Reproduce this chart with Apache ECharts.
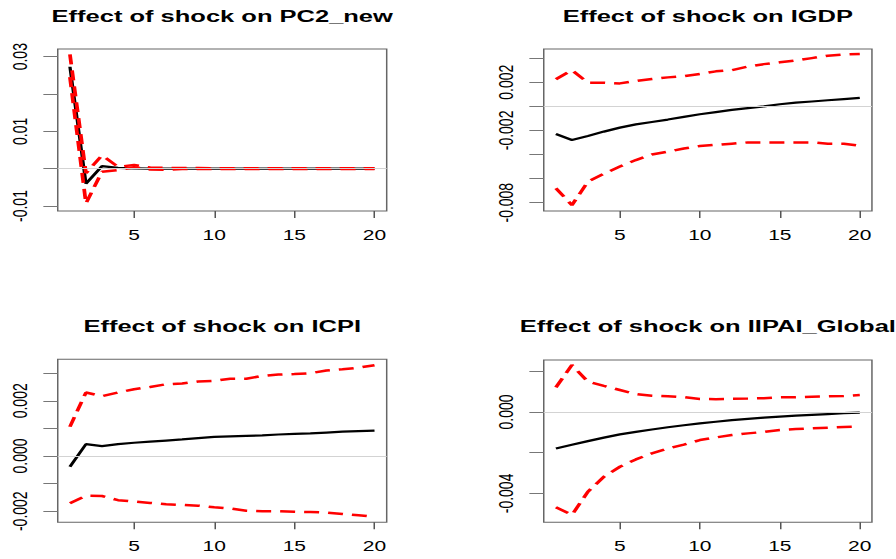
<!DOCTYPE html>
<html>
<head>
<meta charset="utf-8">
<script src="https://cdn.jsdelivr.net/npm/echarts@6/dist/echarts.min.js"></script>
<style>
html, body { margin: 0; padding: 0; background: #fff; overflow: hidden; }
/* the reference picture is stretched sideways, so the chart is laid out narrow and widened */
#main { width: 597px; height: 559px; transform: scaleX(1.5); transform-origin: 0 0; }
</style>
</head>
<body>
<div id="main"></div>
<script>
// horizons 1..20
var steps = [1, 2, 3, 4, 5, 6, 7, 8, 9, 10, 11, 12, 13, 14, 15, 16, 17, 18, 19, 20];
var xTicks = [5, 10, 15, 20];

// PC2_new
var pc2Mid = [0.0273, -0.0040, 0.0007, 0.0002, 0.0001, 0.0000, 0.0000, 0.0000, 0.0000, 0.0000,
	0.0000, 0.0000, 0.0000, 0.0000, 0.0000, 0.0000, 0.0000, 0.0000, 0.0000, 0.0000];
var pc2Upper = [0.0306, -0.0012, 0.0036, 0.0005, 0.0010, 0.0003, 0.0002, 0.0002, 0.0002, 0.0001,
	0.0001, 0.0001, 0.0001, 0.0001, 0.0001, 0.0001, 0.0001, 0.0001, 0.0001, 0.0001];
var pc2Lower = [0.0245, -0.0093, -0.0008, -0.0004, 0.0004, -0.0002, -0.0003, -0.0001, -0.0001, -0.0001,
	-0.0001, -0.0001, -0.0001, -0.0001, -0.0001, -0.0001, -0.0001, -0.0001, -0.0001, -0.0001];
var pc2Ticks = [0.03, 0.02, 0.01, 0, -0.01];
var pc2Labels = [0.03, 0.01, -0.01];

// IGDP
var gdpMid = [-0.0023, -0.0028, -0.00246, -0.0021, -0.00177, -0.0015, -0.0013, -0.0011, -0.00088, -0.00066,
	-0.00048, -0.0003, -0.00015, 0.0000, 0.00017, 0.0003, 0.0004, 0.0005, 0.0006, 0.0007];
var gdpUpper = [0.00224, 0.0030, 0.00196, 0.00196, 0.0019, 0.0021, 0.00227, 0.0024, 0.0025, 0.00268,
	0.0029, 0.0030, 0.0033, 0.0035, 0.00365, 0.0038, 0.0040, 0.0042, 0.0043, 0.00434];
var gdpLower = [-0.0068, -0.0082, -0.00626, -0.0056, -0.0050, -0.00446, -0.0040, -0.00377, -0.0035, -0.0033,
	-0.0032, -0.0031, -0.0030, -0.0030, -0.0030, -0.0030, -0.0030, -0.0031, -0.0031, -0.00327];
var gdpTicks = [0.004, 0.002, 0, -0.002, -0.004, -0.006, -0.008];
var gdpLabels = [0.002, -0.002, -0.008];

// ICPI
var cpiMid = [-0.00039, 0.00043, 0.00036, 0.00043, 0.00048, 0.00052, 0.00056, 0.0006, 0.00065, 0.00069,
	0.00071, 0.00073, 0.00075, 0.00078, 0.0008, 0.00082, 0.00085, 0.00088, 0.0009, 0.00092];
var cpiUpper = [0.00106, 0.0023, 0.00217, 0.0023, 0.00242, 0.0025, 0.0026, 0.00263, 0.0027, 0.00272,
	0.0028, 0.0028, 0.0029, 0.00295, 0.00297, 0.0030, 0.0031, 0.00314, 0.0032, 0.00329];
var cpiLower = [-0.00171, -0.00144, -0.00145, -0.0016, -0.00165, -0.0017, -0.00175, -0.00177, -0.0018, -0.00186,
	-0.0019, -0.00198, -0.0020, -0.0020, -0.00202, -0.00203, -0.00205, -0.0021, -0.00215, -0.0022];
var cpiTicks = [0.003, 0.002, 0.001, 0, -0.001, -0.002];
var cpiLabels = [0.002, 0, -0.002];

// IIPAI_Global
var ipaMid = [-0.00179, -0.00161, -0.00143, -0.00126, -0.0011, -0.00098, -0.00086, -0.00075, -0.00065, -0.00056,
	-0.00048, -0.0004, -0.00034, -0.00028, -0.00023, -0.00018, -0.00014, -0.0001, -0.00006, -0.00003];
var ipaUpper = [0.00121, 0.00231, 0.00149, 0.00128, 0.00108, 0.00088, 0.0008, 0.00077, 0.00073, 0.00064,
	0.00063, 0.00065, 0.00066, 0.00068, 0.00072, 0.00073, 0.00075, 0.00077, 0.00079, 0.00083];
var ipaLower = [-0.00468, -0.00506, -0.00392, -0.00318, -0.00269, -0.00233, -0.00203, -0.00179, -0.0016, -0.00138,
	-0.00125, -0.00113, -0.00105, -0.00098, -0.00088, -0.00084, -0.0008, -0.00077, -0.00074, -0.00072];
var ipaTicks = [0.002, 0, -0.002, -0.004];
var ipaLabels = [0, -0.004];

var titles = ['Effect of shock on PC2_new', 'Effect of shock on IGDP',
	'Effect of shock on ICPI', 'Effect of shock on IIPAI_Global'];

var panels = [
	{ mid: pc2Mid, up: pc2Upper, lo: pc2Lower, ticks: pc2Ticks, labels: pc2Labels, dec: 2,
		ymin: -0.01133, ymax: 0.03206, left: 38.5, top: 49, width: 219.3, height: 162, titleTop: 7.5 },
	{ mid: gdpMid, up: gdpUpper, lo: gdpLower, ticks: gdpTicks, labels: gdpLabels, dec: 3,
		ymin: -0.008689, ymax: 0.004755, left: 362.5, top: 49, width: 218.8, height: 162, titleTop: 7.5 },
	{ mid: cpiMid, up: cpiUpper, lo: cpiLower, ticks: cpiTicks, labels: cpiLabels, dec: 3,
		ymin: -0.002402, ymax: 0.003504, left: 38.5, top: 359.3, width: 219.3, height: 163, titleTop: 318 },
	{ mid: ipaMid, up: ipaUpper, lo: ipaLower, ticks: ipaTicks, labels: ipaLabels, dec: 3,
		ymin: -0.00542, ymax: 0.002555, left: 362.5, top: 360, width: 218.8, height: 162.3, titleTop: 318 }
];

var fontName = 'Liberation Sans';

function pairs(vals) {
	return steps.map(function (s, i) { return [s, vals[i]]; });
}

var grids = [], xAxes = [], yAxes = [], series = [], titleList = [];

panels.forEach(function (p, k) {
	grids.push({
		left: p.left, top: p.top, width: p.width, height: p.height,
		show: true, borderColor: '#666', borderWidth: 1, backgroundColor: 'transparent'
	});
	titleList.push({
		text: titles[k],
		left: p.left + p.width / 2,
		top: p.titleTop,
		textAlign: 'center',
		padding: 0,
		textStyle: { fontFamily: fontName, fontWeight: 'bold', fontSize: 17, color: '#000' }
	});
	xAxes.push({
		type: 'value', gridIndex: k, min: 0.24, max: 20.76,
		axisLine: { show: false, onZero: false },
		splitLine: { show: false },
		axisTick: { show: true, customValues: xTicks, length: 7, lineStyle: { color: '#555' } },
		axisLabel: { customValues: xTicks, margin: 17, fontFamily: fontName, fontSize: 14, color: '#000' }
	});
	yAxes.push({
		type: 'value', gridIndex: k, min: p.ymin, max: p.ymax,
		axisLine: { show: false, onZero: false },
		splitLine: { show: false },
		axisTick: { show: true, customValues: p.ticks, length: 9.6, lineStyle: { color: '#777' } },
		axisLabel: {
			customValues: p.labels, rotate: 90, margin: 18,
			fontFamily: fontName, fontSize: 14, color: '#000',
			formatter: function (v) { return v.toFixed(p.dec); }
		}
	});
	// zero line (abline h = 0)
	series.push({
		type: 'line', xAxisIndex: k, yAxisIndex: k, data: [], z: 1, silent: true,
		markLine: {
			silent: true, symbol: ['none', 'none'], label: { show: false },
			lineStyle: { color: '#d3d3d3', type: 'solid', width: 1 },
			data: [{ yAxis: 0 }]
		}
	});
	series.push({
		type: 'line', xAxisIndex: k, yAxisIndex: k, data: pairs(p.mid), z: 2,
		symbol: 'none', lineStyle: { color: '#000', width: 2.2 }
	});
	[p.up, p.lo].forEach(function (band) {
		series.push({
			type: 'line', xAxisIndex: k, yAxisIndex: k, data: pairs(band), z: 3,
			symbol: 'none', lineStyle: { color: '#ff0000', width: 2.5, type: [10, 6], cap: 'butt' }
		});
	});
});

var chart = echarts.init(document.getElementById('main'), null, { renderer: 'svg' });
chart.setOption({
	animation: false,
	backgroundColor: '#fff',
	title: titleList,
	grid: grids,
	xAxis: xAxes,
	yAxis: yAxes,
	series: series
});
</script>
</body>
</html>
